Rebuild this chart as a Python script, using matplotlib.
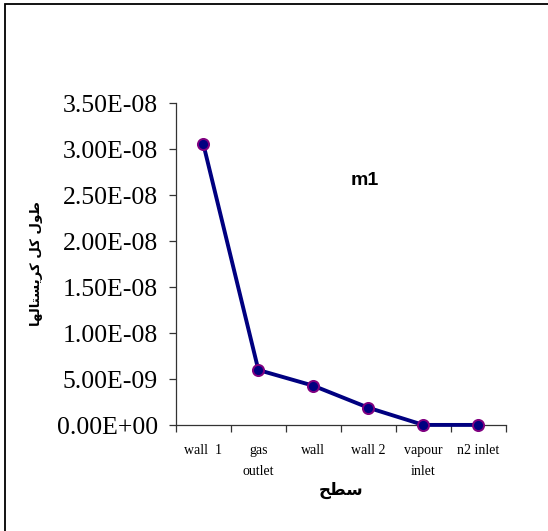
import matplotlib
matplotlib.use('Agg')
import matplotlib.pyplot as plt
from matplotlib.patches import Rectangle
from matplotlib.ticker import FixedLocator, FormatStrFormatter

# data
categories = ['wall  1', 'gas\noutlet', 'wall', 'wall 2', 'vapour\ninlet', 'n2 inlet']
values = [3.05e-08, 5.98e-09, 4.27e-09, 1.88e-09, 1.0e-11, 1.0e-11]
y_ticks = [0, 5e-09, 1e-08, 1.5e-08, 2e-08, 2.5e-08, 3e-08, 3.5e-08]

# arabic text pre-shaped (presentation forms) and put in visual order
ylabel_logical = '\uFEC3\uFEEE\uFEDD \uFEDB\uFEDE \uFEDB\uFEAE\uFEF3\uFEB4\uFE98\uFE8E\uFEDF\uFEEC\uFE8E'
xlabel_logical = '\uFEB3\uFEC4\uFEA2'
ylabel_txt = ylabel_logical[::-1]
xlabel_txt = xlabel_logical[::-1]

fig = plt.figure(figsize=(5.48, 5.31), dpi=100)
ax = fig.add_axes([0.321, 0.1996, 0.602, 0.6064])

# outer frame (only left/top show in the original)
fig.patches.append(Rectangle((0.010, -0.05), 1.2, 1.043, transform=fig.transFigure,
                             fill=False, edgecolor='black', linewidth=1.3))

x = list(range(len(categories)))
ax.plot(x, values, color='#000080', linewidth=2.8, marker='o', markersize=8,
        markerfacecolor='#000080', markeredgecolor='#800080', markeredgewidth=1.4,
        clip_on=False, zorder=3)

ax.set_xlim(-0.5, len(categories) - 0.5)
ax.set_ylim(0, 3.5e-08)

ax.spines['top'].set_visible(False)
ax.spines['right'].set_visible(False)
for s in ['left', 'bottom']:
    ax.spines[s].set_linewidth(0.9)
    ax.spines[s].set_color('#333333')

ax.set_yticks(y_ticks)
ax.yaxis.set_major_formatter(FormatStrFormatter('%.2E'))
ax.tick_params(axis='y', direction='out', length=5, width=0.9, color='#333333', pad=8)
for t in ax.get_yticklabels():
    t.set_fontfamily('Liberation Serif')
    t.set_fontsize(18.5)

ax.set_xticks(x)
ax.set_xticklabels(categories, fontfamily='Liberation Serif', fontsize=10, linespacing=1.75)
ax.xaxis.set_minor_locator(FixedLocator([i - 0.5 for i in range(len(categories) + 1)]))
ax.tick_params(axis='x', which='major', length=0, pad=14)
ax.tick_params(axis='x', which='minor', direction='out', length=5, width=0.9, color='#333333')

ax.set_ylabel(ylabel_txt, fontfamily=['DejaVu Sans'], fontweight='bold', fontsize=9.5, labelpad=10)
ax.set_xlabel(xlabel_txt, fontfamily=['DejaVu Sans'], fontweight='bold', fontsize=12, labelpad=2)

ax.text(2.94, 2.66e-08, 'm1', fontfamily='Liberation Sans', fontweight='bold', fontsize=14,
        ha='center', va='center')

fig.savefig('out.png', dpi=100)
